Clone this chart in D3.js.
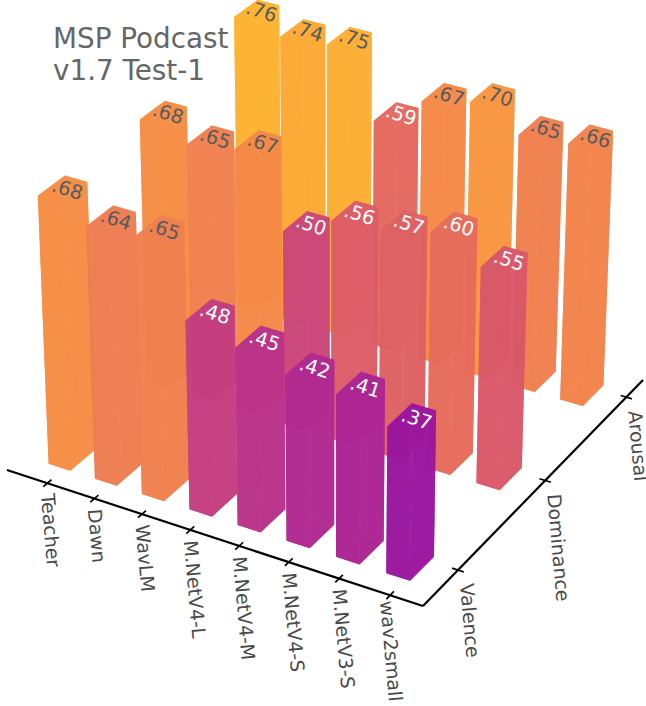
<!DOCTYPE html>
<html>
<head>
<meta charset="utf-8">
<script src="https://cdnjs.cloudflare.com/ajax/libs/d3/7.8.5/d3.min.js"></script>
<style>
  html, body { margin: 0; padding: 0; background: #fff; }
  text { font-family: "DejaVu Sans", sans-serif; }
</style>
</head>
<body>
<div id="chart"></div>
<script>
var models = ["Teacher", "Dawn", "WavLM", "M.NetV4-L", "M.NetV4-M", "M.NetV4-S", "M.NetV3-S", "wav2small"];
var dims = ["Valence", "Dominance", "Arousal"];
var valence = [0.68, 0.64, 0.65, 0.48, 0.45, 0.42, 0.41, 0.37];
var dominance = [0.68, 0.65, 0.67, 0.50, 0.56, 0.57, 0.60, 0.55];
var arousal = [0.76, 0.74, 0.75, 0.59, 0.67, 0.70, 0.65, 0.66];
var series = [valence, dominance, arousal];

var w = 646;
var h = 706;

// floor coordinates: u runs along the model axis, v along the dimension axis
var xScale = d3.scalePoint().domain(models).range([0.8977, 0.0749]);
var yScale = d3.scalePoint().domain(dims).range([0.1467, 0.917]);
// bar centres sit a little off the ticks
var xBar = d3.scalePoint().domain(models).range([0.9102, 0.0924]);
var yBar = d3.scalePoint().domain(dims).range([0.1145, 0.8868]);
var color = d3.scaleSequential(d3.interpolatePlasma).domain([0.112, 0.892]);

// perspective camera, fitted to the axis lines in the picture
function project(u, v, z) {
  var d = 1 + 0.06 * u + 0.1 * v;
  return [(-415.58 * u + 284.3 * v - 19 * z + 423) / (d - 0.057 * z),
          (-107.8 * u - 188 * v - 433 * z + 606) / (d - 0.073 * z)];
}

var barU = 0.055, barV = 0.1;

var svg = d3.select("#chart")
  .append("svg")
  .attr("width", w)
  .attr("height", h);

// table of bars, far ones first so the near ones paint over them
var bars = [];
dims.forEach(function(dim, j) {
  models.forEach(function(model, i) {
    bars.push({ model: model, dim: dim, value: series[j][i] });
  });
});
bars.sort(function(a, b) {
  return (yBar(b.dim) - yBar(a.dim)) || (xBar(b.model) - xBar(a.model));
});

function faces(d) {
  var u0 = xBar(d.model) - barU / 2, u1 = u0 + barU;
  var v0 = yBar(d.dim) - barV / 2, v1 = v0 + barV;
  var t = d.value;
  return [
    [[u0, v0, 0], [u1, v0, 0], [u1, v1, 0], [u0, v1, 0]], // bottom
    [[u1, v1, 0], [u1, v0, 0], [u1, v0, t], [u1, v1, t]], // hidden left
    [[u1, v1, 0], [u0, v1, 0], [u0, v1, t], [u1, v1, t]], // hidden back
    [[u0, v0, 0], [u1, v0, 0], [u1, v0, t], [u0, v0, t]], // front left
    [[u0, v0, 0], [u0, v1, 0], [u0, v1, t], [u0, v0, t]], // front right
    [[u0, v0, t], [u1, v0, t], [u1, v1, t], [u0, v1, t]]  // top
  ];
}

var barG = svg.selectAll("g.bar")
  .data(bars)
  .enter()
  .append("g")
  .attr("class", "bar");

barG.selectAll("polygon")
  .data(function(d) {
    return faces(d).map(function(f) { return { pts: f, value: d.value }; });
  })
  .enter()
  .append("polygon")
  .attr("points", function(d) {
    return d.pts.map(function(p) { return project(p[0], p[1], p[2]).join(","); }).join(" ");
  })
  .style("fill", function(d) { return color(d.value); })
  .style("fill-opacity", 0.85);

// value labels on the bar tops
barG.append("text")
  .attr("transform", function(d) {
    var p = project(xBar(d.model), yBar(d.dim), d.value);
    return "translate(" + (p[0] + 5) + "," + p[1] + ") rotate(18)";
  })
  .attr("text-anchor", "middle")
  .attr("dy", "0.36em")
  .style("font-size", "19.5px")
  .style("fill", function(d) { return d.value > 0.6 ? "#555b60" : "#fff"; })
  .text(function(d) { return d3.format(".2f")(d.value).slice(1); });

// axes
function axisLine(a, b, width) {
  var p = project(a[0], a[1], 0), q = project(b[0], b[1], 0);
  svg.append("line")
    .attr("x1", p[0]).attr("y1", p[1])
    .attr("x2", q[0]).attr("y2", q[1])
    .style("stroke", "#000")
    .style("stroke-width", width);
}
axisLine([1, 0], [0, 0], 2.2);
axisLine([0, 0], [0, 1], 2.2);

models.forEach(function(m) {
  var u = xScale(m);
  axisLine([u, -0.0155], [u, 0.0155], 1.7);
  var p = project(u, 0, 0);
  // the last label hugs its tick in the reference
  var last = m === "wav2small";
  svg.append("text")
    .attr("transform", "translate(" + (p[0] + (last ? -10 : -6.5)) + "," + (p[1] + (last ? 6 : 11)) + ") rotate(85)")
    .style("font-size", "19px")
    .style("fill", "#4a4a4a")
    .text(m);
});

dims.forEach(function(dim) {
  var v = yScale(dim);
  axisLine([-0.0135, v], [0.0135, v], 1.7);
  var p = project(0, v, 0);
  svg.append("text")
    .attr("transform", "translate(" + (p[0] + 2) + "," + (p[1] + 14) + ") rotate(85)")
    .style("font-size", "19px")
    .style("fill", "#4a4a4a")
    .text(dim);
});

// title
svg.selectAll("text.title")
  .data(["MSP Podcast", "v1.7 Test-1"])
  .enter()
  .append("text")
  .attr("class", "title")
  .attr("x", 53)
  .attr("y", function(d, i) { return 48 + i * 31.5; })
  .style("font-size", "27.8px")
  .style("fill", "#666")
  .text(function(d) { return d; });
</script>
</body>
</html>
